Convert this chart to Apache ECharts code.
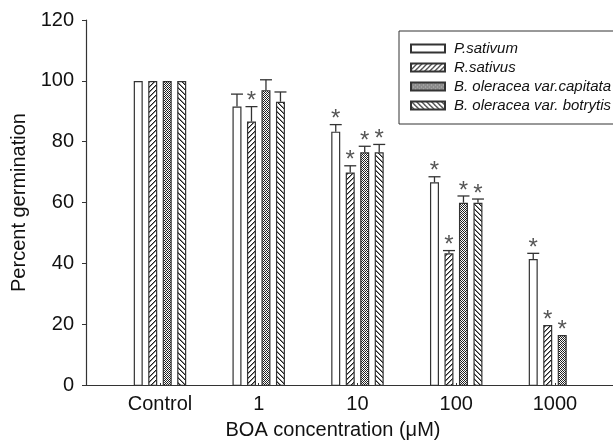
<!DOCTYPE html>
<html>
<head>
<meta charset="utf-8">
<script src="https://cdn.jsdelivr.net/npm/echarts@6/dist/echarts.min.js"></script>
<style>html,body{margin:0;padding:0;background:#fff}#c{width:613px;height:445px}</style>
</head>
<body>
<div id="c"></div>
<script>
const categories = ['Control', '1', '10', '100', '1000'];
const seriesNames = ['P.sativum', 'R.sativus', 'B. oleracea var.capitata', 'B. oleracea var. botrytis'];
const pSativum = [100, 91.6, 83.4, 66.8, 41.6];
const rSativus = [100, 86.7, 70.0, 43.5, 20.0];
const capitata = [100, 97.0, 76.6, 60.1, 16.7];
const botrytis = [100, 93.2, 76.6, 60.1, null];
const pErr = [0, 4.1, 2.3, 1.8, 1.9];
const rErr = [0, 4.9, 2.2, 0.9, 0];
const cErr = [0, 3.4, 2.0, 2.2, 0];
const bErr = [0, 3.2, 2.6, 1.2, 0];
const pStar = [0, 0, 1, 1, 1];
const rStar = [0, 1, 1, 1, 1];
const cStar = [0, 0, 1, 1, 1];
const bStar = [0, 0, 1, 1, 0];
const yTicks = [0, 20, 40, 60, 80, 100, 120];

const values = [pSativum, rSativus, capitata, botrytis];
const errs = [pErr, rErr, cErr, bErr];
const stars = [pStar, rStar, cStar, bStar];

const FONT = "'Liberation Sans', Arial, Helvetica, sans-serif";
const BAR_W = 9;
const GAP_RATIO = 0.61;
const STEP = BAR_W * (1 + GAP_RATIO);
const INK = '#333';

function makePattern(kind) {
  const n = kind === 'cross' ? 4 : 5;
  const cv = document.createElement('canvas');
  cv.width = n; cv.height = n;
  const ctx = cv.getContext('2d');
  ctx.fillStyle = '#fff';
  ctx.fillRect(0, 0, n, n);
  for (let x = 0; x < n; x++) {
    for (let y = 0; y < n; y++) {
      const a = (x + y) % n;
      const b = ((x - y) % n + n) % n;
      let col = null;
      if (kind === 'fwd') col = a === 0 ? '#1e1e1e' : (a === 1 ? '#8a8a8a' : null);
      else if (kind === 'back') col = b === 0 ? '#1e1e1e' : (b === 1 ? '#8a8a8a' : null);
      else if (kind === 'cross') col = (a === 0 || b === 0) ? '#1a1a1a' : ((x + y) % 2 === 0 ? '#444' : null);
      if (col) { ctx.fillStyle = col; ctx.fillRect(x, y, 1, 1); }
    }
  }
  return { image: cv, repeat: 'repeat' };
}
const fills = ['#ffffff', makePattern('fwd'), makePattern('cross'), makePattern('back')];

const barSeries = values.map((vals, s) => ({
  name: seriesNames[s],
  type: 'bar',
  xAxisIndex: 1,
  yAxisIndex: 1,
  barWidth: BAR_W,
  barGap: (GAP_RATIO * 100) + '%',
  data: vals,
  itemStyle: { color: fills[s], borderColor: INK, borderWidth: 1.2 },
  emphasis: { disabled: true },
  silent: true
}));

const errData = [];
values.forEach((vals, s) => {
  vals.forEach((v, i) => {
    if (v == null) return;
    errData.push([i, v, errs[s][i], stars[s][i], s]);
  });
});

const errSeries = {
  type: 'custom',
  name: 'err',
  xAxisIndex: 1,
  yAxisIndex: 1,
  silent: true,
  encode: { x: 0, y: 1 },
  data: errData,
  renderItem: function (params, api) {
    const ci = api.value(0), v = api.value(1), e = api.value(2), st = api.value(3), s = api.value(4);
    const base = api.coord([ci, v]);
    const top = api.coord([ci, v + e]);
    const x = base[0] + (s - 1.5) * STEP;
    const children = [];
    if (e > 0) {
      children.push({ type: 'line', shape: { x1: x, y1: base[1], x2: x, y2: top[1] }, style: { stroke: INK, lineWidth: 1.3 } });
      children.push({ type: 'line', shape: { x1: x - 6, y1: top[1], x2: x + 6, y2: top[1] }, style: { stroke: INK, lineWidth: 1.3 } });
    }
    if (st) {
      children.push({ type: 'text', style: { text: '*', x: x, y: top[1] - 5, align: 'center', verticalAlign: 'middle', fontSize: 24, fontFamily: FONT, fill: '#555' } });
    }
    return { type: 'group', children: children };
  }
};

const chart = echarts.init(document.getElementById('c'), null, { renderer: 'canvas' });
chart.setOption({
  animation: false,
  backgroundColor: '#fff',
  textStyle: { fontFamily: FONT },
  grid: [
    { left: 86, right: 0, top: 20, bottom: 59 },
    { left: 110.6, width: 493.75, top: 20, bottom: 59 }
  ],
  legend: {
    data: seriesNames,
    orient: 'vertical',
    left: 399,
    top: 31,
    padding: [10, 30, 11, 11],
    borderColor: INK,
    borderWidth: 1,
    itemWidth: 34,
    itemHeight: 8,
    itemGap: 4,
    icon: 'rect',
    selectedMode: false,
    textStyle: { fontSize: 15, fontStyle: 'italic', color: '#111', fontFamily: FONT, lineHeight: 15, padding: [0, 0, 0, 4] }
  },
  xAxis: [
    {
      gridIndex: 0, type: 'value', min: 0, max: 1,
      axisLine: { show: true, lineStyle: { color: INK, width: 1.2 } },
      axisTick: { show: false }, axisLabel: { show: false }, splitLine: { show: false },
      name: 'BOA concentration (\u03bcM)', nameLocation: 'middle', nameGap: 35,
      nameTextStyle: { fontSize: 20, color: '#111', fontFamily: FONT, padding: [0, 33, 0, 0] }
    },
    {
      gridIndex: 1, type: 'category', data: categories,
      axisLine: { show: false },
      axisTick: { show: true, alignWithLabel: true, inside: true, length: 3, lineStyle: { color: INK } },
      axisLabel: { fontSize: 20, color: '#111', margin: 8, fontFamily: FONT, interval: 0 },
      splitLine: { show: false }
    }
  ],
  yAxis: [
    {
      gridIndex: 0, type: 'value', min: yTicks[0], max: yTicks[yTicks.length - 1], interval: 20,
      axisLine: { show: true, lineStyle: { color: INK, width: 1.2 } },
      axisTick: { show: true, inside: false, length: 4, lineStyle: { color: INK } },
      axisLabel: { fontSize: 20, color: '#111', margin: 12, fontFamily: FONT },
      splitLine: { show: false },
      name: 'Percent germination', nameLocation: 'middle', nameGap: 54, nameRotate: 90,
      nameTextStyle: { fontSize: 20, color: '#111', fontFamily: FONT }
    },
    {
      gridIndex: 1, type: 'value', min: yTicks[0], max: yTicks[yTicks.length - 1], interval: 20, show: false
    }
  ],
  series: barSeries.concat([errSeries])
});
</script>
</body>
</html>
